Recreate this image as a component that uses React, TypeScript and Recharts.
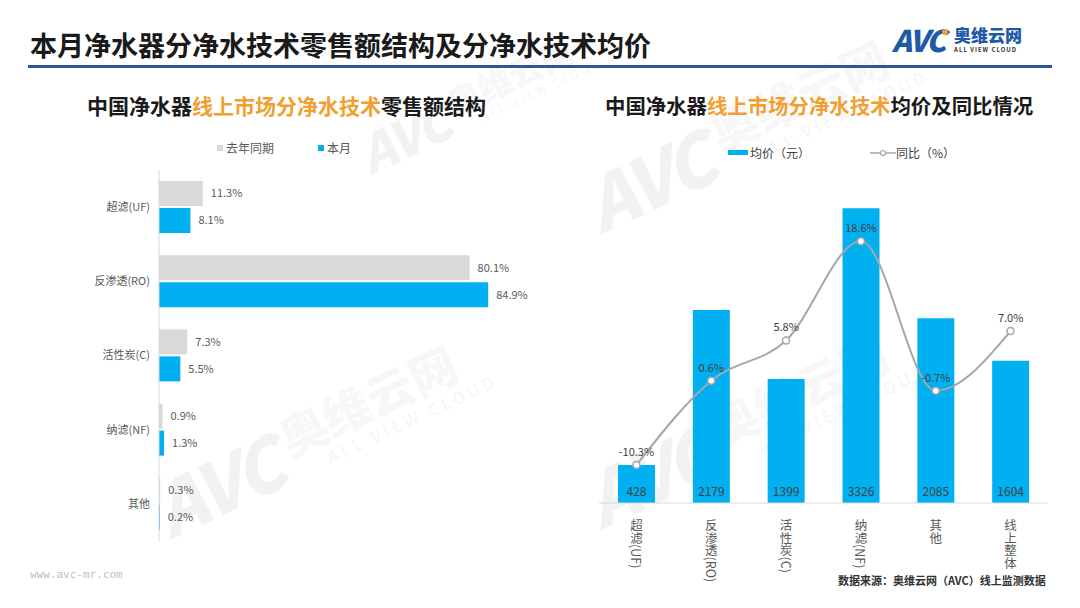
import React from "react";
import {
  BarChart,
  Bar,
  ComposedChart,
  Line,
  XAxis,
  YAxis,
  LabelList,
} from "recharts";

const structureCategories = ["超滤(UF)", "反渗透(RO)", "活性炭(C)", "纳滤(NF)", "其他"];
const lastYearShare = [11.3, 80.1, 7.3, 0.9, 0.3];
const thisMonthShare = [8.1, 84.9, 5.5, 1.3, 0.2];

const priceCategories = ["超滤(UF)", "反渗透(RO)", "活性炭(C)", "纳滤(NF)", "其他", "线上整体"];
const avgPrice = [428, 2179, 1399, 3326, 2085, 1604];
const yoyChange = [-10.3, 0.6, 5.8, 18.6, -0.7, 7.0];

const BLUE = "#00b0f0";
const GRAY = "#d9d9d9";
const ORANGE = "#f0a030";
const TEXT = "#595959";
const FONT = "'Noto Sans CJK SC', 'Noto Sans', sans-serif";

const structureData = structureCategories.map((name, i) => ({
  name,
  lastYear: lastYearShare[i],
  thisMonth: thisMonthShare[i],
}));

const priceData = priceCategories.map((name, i) => ({
  name,
  price: avgPrice[i],
  yoy: yoyChange[i],
}));

const pct = (v: any) => `${Number(v).toFixed(1)}%`;

function VerticalTick({ x, y, payload }: any) {
  return (
    <text
      x={x}
      y={y + 8}
      fill={TEXT}
      fontSize={12.5}
      fontFamily={FONT}
      textAnchor="start"
      style={{ writingMode: "vertical-rl" } as any}
    >
      {payload.value}
    </text>
  );
}

// faint AVC watermark stamped behind the charts
function Watermark({ left, top, scale = 1 }: { left: number; top: number; scale?: number }) {
  return (
    <div
      style={{
        position: "absolute",
        left,
        top,
        transform: `rotate(-25deg) scale(${scale})`,
        transformOrigin: "left top",
        color: "rgba(0,0,0,0.05)",
        fontFamily: FONT,
        whiteSpace: "nowrap",
        display: "flex",
        alignItems: "center",
        pointerEvents: "none",
      }}
    >
      <span style={{ fontSize: 86, fontWeight: 900, fontStyle: "italic", letterSpacing: -4 }}>AVC</span>
      <span style={{ display: "flex", flexDirection: "column", marginLeft: 14 }}>
        <span style={{ fontSize: 56, fontWeight: 900, lineHeight: 1 }}>奥维云网</span>
        <span style={{ fontSize: 20, fontWeight: 700, letterSpacing: 4, marginLeft: 40 }}>ALL VIEW CLOUD</span>
      </span>
    </div>
  );
}

function LeftChart() {
  return (
    <div style={{ position: "absolute", left: 0, top: 160 }}>
      <BarChart
        width={540}
        height={400}
        data={structureData}
        layout="vertical"
        margin={{ top: 10, right: 32, bottom: 19, left: 0 }}
        barSize={25}
        barGap={2}
      >
        <XAxis type="number" domain={[0, 90]} hide />
        <YAxis
          type="category"
          dataKey="name"
          width={159}
          axisLine={{ stroke: GRAY }}
          tickLine={false}
          tickMargin={3}
          tick={{ fill: TEXT, fontSize: 11, fontFamily: FONT }}
        />
        <Bar dataKey="lastYear" fill={GRAY} isAnimationActive={false}>
          <LabelList dataKey="lastYear" position="right" offset={8} formatter={pct} fill={TEXT} fontSize={11} fontFamily={FONT} />
        </Bar>
        <Bar dataKey="thisMonth" fill={BLUE} isAnimationActive={false}>
          <LabelList dataKey="thisMonth" position="right" offset={8} formatter={pct} fill={TEXT} fontSize={11} fontFamily={FONT} />
        </Bar>
      </BarChart>
    </div>
  );
}

function RightChart() {
  return (
    <div style={{ position: "absolute", left: 590, top: 170 }}>
      <ComposedChart
        width={470}
        height={438}
        data={priceData}
        margin={{ top: 14, right: 12, bottom: 8, left: 9 }}
        barSize={37}
      >
        <XAxis
          dataKey="name"
          height={97}
          axisLine={{ stroke: GRAY }}
          tickLine={false}
          interval={0}
          tick={<VerticalTick />}
        />
        <YAxis yAxisId="price" domain={[0, 3600]} hide />
        <YAxis yAxisId="yoy" orientation="right" domain={[-15.2, 26]} hide />
        <Bar yAxisId="price" dataKey="price" fill={BLUE} isAnimationActive={false}>
          <LabelList dataKey="price" position="insideBottom" offset={7} fill="#404040" fontSize={12} fontFamily={FONT} />
        </Bar>
        <Line
          yAxisId="yoy"
          type="monotone"
          dataKey="yoy"
          stroke="#a6a6a6"
          strokeWidth={2}
          dot={{ r: 3.5, fill: "#fff", stroke: "#a6a6a6", strokeWidth: 1.5 }}
          isAnimationActive={false}
        >
          <LabelList dataKey="yoy" position="top" offset={9} formatter={pct} fill="#404040" fontSize={11} fontFamily={FONT} />
        </Line>
      </ComposedChart>
    </div>
  );
}

export default function App() {
  return (
    <div
      style={{
        position: "absolute",
        left: 0,
        top: 0,
        width: 1080,
        height: 608,
        background: "#fff",
        overflow: "hidden",
        fontFamily: FONT,
      }}
    >
      <Watermark left={134} top={463} scale={0.85} />
      <Watermark left={345} top={121} scale={0.6} />
      <Watermark left={565} top={158} scale={0.85} />
      <Watermark left={565} top={453} scale={0.85} />

      {/* header */}
      <div style={{ position: "absolute", left: 30, top: 25, fontSize: 27, fontWeight: 700, color: "#1a1a1a" }}>
        本月净水器分净水技术零售额结构及分净水技术均价
      </div>
      <div style={{ position: "absolute", left: 28, top: 65, width: 1024, height: 3, background: "#2f5597" }} />
      <div style={{ position: "absolute", left: 892, top: 24, display: "flex", alignItems: "center", color: "#1f5aa6" }}>
        <span style={{ fontSize: 30, fontWeight: 900, fontStyle: "italic", letterSpacing: -2, lineHeight: 1 }}>AVC</span>
        <span style={{ width: 6, height: 6, borderRadius: 3, background: ORANGE, marginLeft: -2, marginTop: -14 }} />
        <span style={{ display: "flex", flexDirection: "column", marginLeft: 6 }}>
          <span style={{ fontSize: 17, fontWeight: 900, lineHeight: 1 }}>奥维云网</span>
          <span style={{ fontSize: 6, fontWeight: 700, letterSpacing: 1, lineHeight: 1, marginTop: 4, color: "#333" }}>
            ALL VIEW CLOUD
          </span>
        </span>
      </div>

      {/* left chart title + legend */}
      <div style={{ position: "absolute", left: 87, top: 90, fontSize: 21, fontWeight: 700, color: "#1a1a1a" }}>
        中国净水器<span style={{ color: ORANGE }}>线上市场分净水技术</span>零售额结构
      </div>
      <div style={{ position: "absolute", left: 217, top: 139, display: "flex", alignItems: "center", fontSize: 12, color: TEXT }}>
        <span style={{ width: 6, height: 6, background: GRAY, marginRight: 3 }} />
        去年同期
        <span style={{ width: 6, height: 6, background: BLUE, marginLeft: 44, marginRight: 3 }} />
        本月
      </div>

      {/* right chart title + legend */}
      <div style={{ position: "absolute", left: 605, top: 90, fontSize: 20.4, fontWeight: 700, color: "#1a1a1a" }}>
        中国净水器<span style={{ color: ORANGE }}>线上市场分净水技术</span>均价及同比情况
      </div>
      <div style={{ position: "absolute", left: 728, top: 144, display: "flex", alignItems: "center", fontSize: 12, color: "#404040" }}>
        <span style={{ width: 20, height: 5, background: BLUE, marginRight: 2 }} />
        均价（元）
        <svg width={26} height={10} style={{ marginLeft: 60 }}>
          <line x1={0} y1={5} x2={26} y2={5} stroke="#a6a6a6" strokeWidth={1.5} />
          <circle cx={13} cy={5} r={2.5} fill="#fff" stroke="#a6a6a6" strokeWidth={1.2} />
        </svg>
        同比（%）
      </div>

      <LeftChart />
      <RightChart />

      {/* footer */}
      <div style={{ position: "absolute", left: 30, top: 568, fontSize: 11, color: "#bfbfbf", fontFamily: "'DejaVu Sans Mono', monospace" }}>
        www.avc-mr.com
      </div>
      <div style={{ position: "absolute", left: 838, top: 572, fontSize: 11, fontWeight: 700, color: "#333" }}>
        数据来源：奥维云网（AVC）线上监测数据
      </div>
    </div>
  );
}
